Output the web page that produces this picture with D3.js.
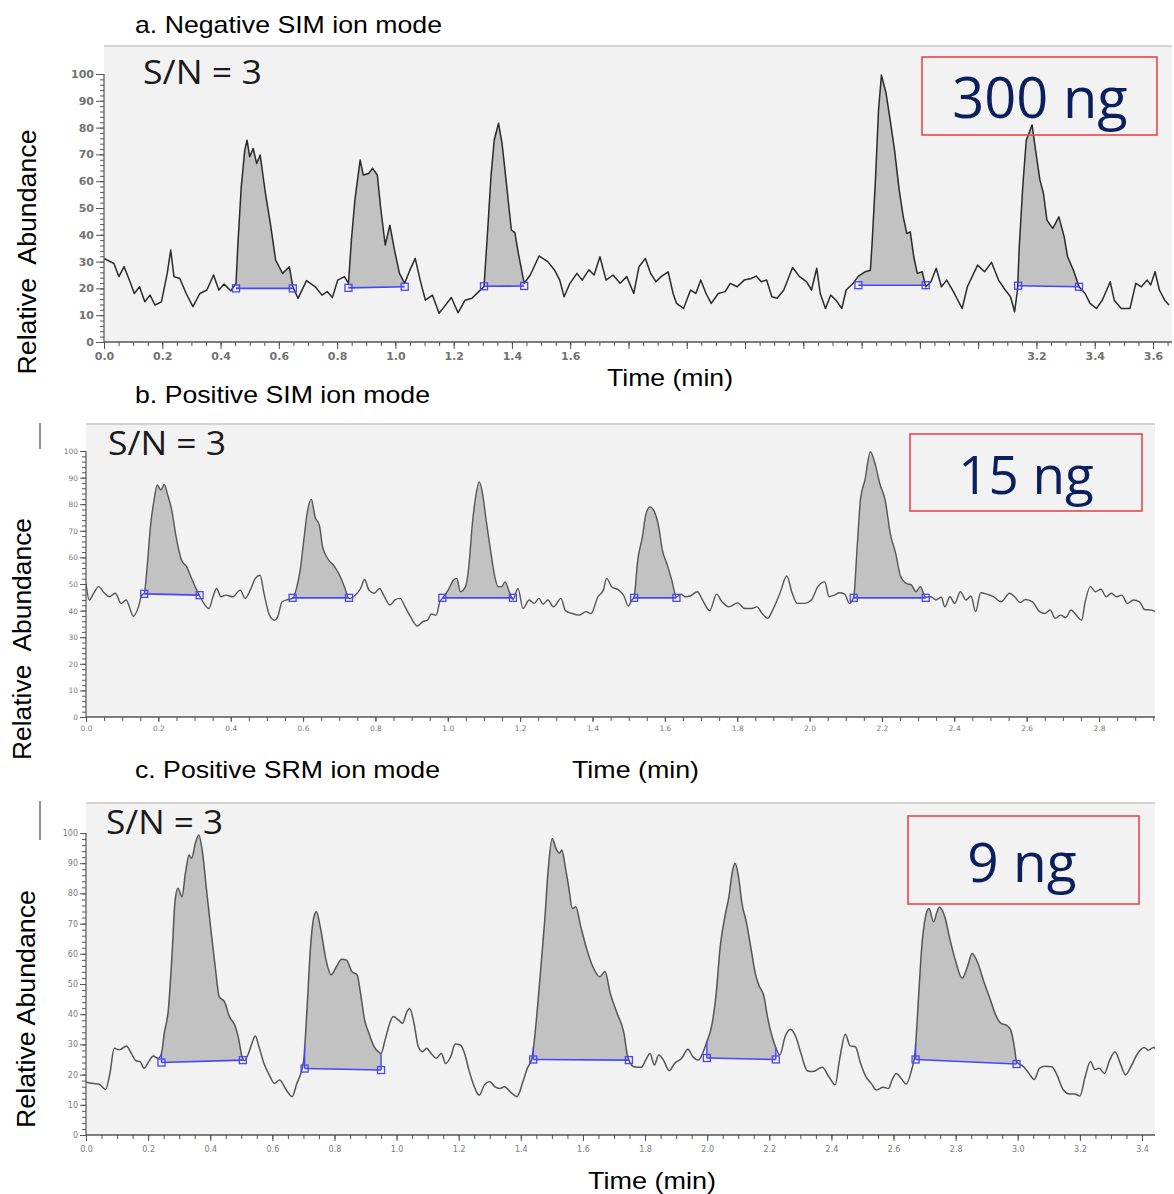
<!DOCTYPE html>
<html>
<head>
<meta charset="utf-8">
<title>SIM / SRM chromatograms</title>
<script src="https://cdn.jsdelivr.net/npm/d3@7/dist/d3.min.js"></script>
<style>
  body { margin: 0; background: #fff; }
  svg { display: block; font-family: "Liberation Sans", Arial, sans-serif; }
</style>
</head>
<body>
<svg id="chart" width="1174" height="1194"></svg>
<script>
// ---- data: [time (min), relative abundance] ----
const traceA = [
  [0.000,31.2],[0.034,29.3],[0.051,24.4],[0.069,28.1],[0.087,23.1],[0.104,18.1],[0.122,20.6],[0.140,15.0],
  [0.158,17.5],[0.175,13.8],[0.197,15.0],[0.217,25.6],[0.229,34.3],[0.240,24.4],[0.260,23.7],[0.282,18.1],
  [0.305,13.2],[0.329,18.1],[0.353,19.4],[0.376,25.0],[0.394,19.4],[0.412,21.6],[0.435,19.1],[0.453,21.9],
  [0.459,35.5],[0.471,57.9],[0.483,71.6],[0.491,75.3],[0.500,69.1],[0.512,72.2],[0.524,66.6],[0.536,69.8],
  [0.554,55.5],[0.571,44.2],[0.589,30.6],[0.613,25.6],[0.636,28.1],[0.648,20.6],[0.666,16.3],[0.695,22.9],
  [0.725,20.6],[0.748,17.5],[0.766,18.8],[0.784,16.6],[0.802,23.1],[0.825,24.4],[0.839,21.9],[0.849,38.0],
  [0.861,53.0],[0.879,67.9],[0.890,62.3],[0.908,62.9],[0.922,64.8],[0.938,62.3],[0.949,50.5],[0.965,36.2],
  [0.981,43.6],[0.997,34.3],[1.014,25.6],[1.032,21.9],[1.050,26.9],[1.068,31.2],[1.085,23.1],[1.103,15.6],
  [1.127,17.5],[1.150,10.7],[1.168,13.2],[1.192,16.6],[1.215,10.9],[1.239,15.6],[1.263,16.3],[1.286,18.8],
  [1.304,20.6],[1.316,40.5],[1.328,61.7],[1.339,75.3],[1.354,81.6],[1.366,74.1],[1.381,59.2],[1.398,41.8],
  [1.410,40.8],[1.422,33.1],[1.442,21.9],[1.463,25.0],[1.493,32.1],[1.523,30.0],[1.546,26.9],[1.564,23.1],
  [1.579,16.9],[1.599,21.9],[1.623,25.6],[1.641,23.1],[1.664,26.9],[1.682,25.0],[1.702,31.8],[1.723,23.1],
  [1.747,25.0],[1.771,21.9],[1.794,24.4],[1.818,18.1],[1.836,28.1],[1.858,31.2],[1.876,25.6],[1.894,22.5],
  [1.912,24.4],[1.936,26.2],[1.953,18.1],[1.965,14.4],[1.989,12.5],[2.013,19.4],[2.031,18.1],[2.048,23.1],
  [2.066,18.1],[2.084,14.4],[2.108,18.1],[2.132,18.8],[2.149,21.9],[2.173,20.6],[2.197,23.1],[2.221,23.7],
  [2.238,24.6],[2.256,22.5],[2.274,23.1],[2.292,16.9],[2.310,16.3],[2.333,19.4],[2.363,27.8],[2.387,24.4],
  [2.411,22.5],[2.428,19.4],[2.446,27.5],[2.458,18.1],[2.476,12.5],[2.494,17.5],[2.512,15.6],[2.532,12.5],
  [2.547,19.4],[2.571,21.9],[2.589,24.6],[2.612,26.2],[2.630,26.8],[2.636,36.8],[2.648,61.7],[2.658,86.5],
  [2.668,99.6],[2.684,92.8],[2.698,82.8],[2.713,71.6],[2.729,56.7],[2.743,46.7],[2.755,40.5],[2.767,41.1],
  [2.779,31.8],[2.791,25.6],[2.808,26.2],[2.820,20.6],[2.838,22.5],[2.856,27.5],[2.874,20.6],[2.892,23.1],
  [2.915,18.8],[2.945,12.5],[2.963,20.6],[2.998,28.7],[3.022,26.2],[3.046,29.7],[3.070,23.1],[3.093,19.4],
  [3.111,16.9],[3.125,11.3],[3.135,19.4],[3.141,35.5],[3.153,57.9],[3.165,75.3],[3.185,81.0],[3.197,71.6],
  [3.212,60.4],[3.224,55.5],[3.236,45.5],[3.256,42.4],[3.277,46.7],[3.295,39.3],[3.307,31.8],[3.327,26.8],
  [3.346,20.6],[3.367,18.1],[3.384,14.4],[3.406,12.5],[3.426,15.6],[3.453,22.5],[3.467,15.6],[3.491,12.5],
  [3.521,12.5],[3.541,21.9],[3.560,20.6],[3.580,23.1],[3.592,21.3],[3.607,26.2],[3.622,19.4],[3.640,15.6],
  [3.655,13.8]
];

const traceB = [
  [0.000,50.2],[0.009,44.0],[0.021,46.5],[0.035,49.0],[0.050,46.7],[0.064,45.2],[0.081,46.5],[0.097,42.7],
  [0.111,44.0],[0.131,37.9],[0.145,41.4],[0.154,45.8],[0.161,46.5],[0.169,56.5],[0.178,71.5],[0.188,81.5],
  [0.197,87.2],[0.207,85.3],[0.216,87.4],[0.226,83.4],[0.237,77.8],[0.249,67.8],[0.264,59.0],[0.278,56.5],
  [0.292,52.1],[0.304,48.3],[0.314,45.5],[0.326,42.7],[0.340,40.8],[0.351,45.2],[0.361,48.3],[0.373,45.2],
  [0.387,45.8],[0.406,45.2],[0.426,47.7],[0.440,44.6],[0.454,47.7],[0.468,52.1],[0.481,53.3],[0.492,46.5],
  [0.507,38.3],[0.521,36.4],[0.530,37.7],[0.542,43.3],[0.559,44.2],[0.571,44.6],[0.583,49.0],[0.592,55.2],
  [0.602,66.5],[0.611,76.5],[0.623,81.8],[0.633,75.3],[0.645,72.1],[0.654,64.0],[0.668,59.6],[0.687,56.5],
  [0.703,52.7],[0.716,48.3],[0.727,44.5],[0.744,45.8],[0.759,48.3],[0.770,51.7],[0.782,47.7],[0.797,46.5],
  [0.811,48.3],[0.825,45.2],[0.840,42.1],[0.854,44.0],[0.868,44.6],[0.882,41.4],[0.897,37.7],[0.916,34.2],
  [0.930,35.8],[0.944,36.4],[0.954,38.7],[0.968,38.3],[0.978,43.3],[0.985,44.6],[1.001,47.7],[1.016,51.5],
  [1.025,52.1],[1.035,47.1],[1.049,49.0],[1.058,56.5],[1.068,72.8],[1.077,82.8],[1.087,88.4],[1.096,84.1],
  [1.106,74.0],[1.118,62.8],[1.130,52.7],[1.139,49.0],[1.149,49.0],[1.158,50.8],[1.170,47.1],[1.180,44.2],
  [1.194,48.3],[1.208,40.8],[1.225,44.0],[1.239,42.7],[1.252,44.6],[1.263,42.4],[1.277,44.0],[1.292,41.4],
  [1.313,44.6],[1.325,40.0],[1.344,38.9],[1.363,38.3],[1.382,39.6],[1.396,38.9],[1.415,45.2],[1.430,47.7],
  [1.439,52.1],[1.453,49.0],[1.473,47.7],[1.487,45.5],[1.499,41.7],[1.509,44.0],[1.515,45.2],[1.525,59.0],
  [1.538,67.8],[1.547,75.9],[1.559,79.0],[1.571,77.2],[1.583,71.5],[1.593,62.8],[1.607,57.1],[1.619,51.5],
  [1.632,45.2],[1.646,46.2],[1.656,45.2],[1.670,45.5],[1.690,47.1],[1.704,44.0],[1.724,40.0],[1.743,46.2],
  [1.758,43.3],[1.777,41.4],[1.801,42.9],[1.821,40.8],[1.840,40.8],[1.855,41.4],[1.869,38.9],[1.884,37.1],
  [1.898,40.2],[1.918,46.5],[1.937,53.0],[1.952,46.5],[1.966,42.7],[1.986,42.7],[2.005,44.0],[2.023,49.0],
  [2.042,50.8],[2.054,45.2],[2.068,45.8],[2.083,46.7],[2.097,46.2],[2.110,42.7],[2.122,45.2],[2.131,62.8],
  [2.141,82.2],[2.153,89.1],[2.168,99.7],[2.182,94.7],[2.194,87.8],[2.209,81.5],[2.223,69.0],[2.238,61.5],
  [2.252,52.7],[2.267,50.2],[2.282,49.6],[2.294,47.1],[2.306,49.0],[2.321,45.0],[2.335,45.2],[2.349,44.0],
  [2.364,45.0],[2.374,41.4],[2.388,45.2],[2.401,42.7],[2.417,47.1],[2.432,44.0],[2.446,45.5],[2.459,39.6],
  [2.473,46.7],[2.490,46.2],[2.509,45.2],[2.529,43.3],[2.553,46.5],[2.568,45.0],[2.582,43.0],[2.597,44.2],
  [2.616,43.3],[2.636,39.6],[2.650,38.9],[2.665,40.2],[2.679,37.1],[2.694,38.3],[2.708,37.4],[2.723,40.2],
  [2.737,38.3],[2.752,36.4],[2.761,42.7],[2.776,49.0],[2.790,47.1],[2.805,48.0],[2.820,45.2],[2.834,46.5],
  [2.849,45.2],[2.863,45.8],[2.878,42.7],[2.895,44.0],[2.912,43.3],[2.926,40.4],[2.946,40.2],[2.960,39.2]
];

const traceC = [
  [0.000,17.6],[0.019,17.1],[0.041,16.9],[0.063,15.1],[0.077,20.4],[0.091,28.7],[0.108,28.2],[0.130,29.5],
  [0.146,27.0],[0.161,24.6],[0.174,24.3],[0.187,22.1],[0.202,24.3],[0.216,26.2],[0.232,25.4],[0.243,27.0],
  [0.252,33.7],[0.265,41.4],[0.276,57.9],[0.287,77.8],[0.296,81.7],[0.309,78.9],[0.320,86.6],[0.332,92.7],
  [0.340,91.6],[0.352,96.6],[0.363,99.3],[0.374,94.4],[0.387,82.2],[0.401,69.0],[0.416,55.7],[0.429,45.8],
  [0.446,44.1],[0.462,39.2],[0.479,36.4],[0.490,32.6],[0.501,26.5],[0.509,24.6],[0.523,27.0],[0.534,30.3],
  [0.545,32.8],[0.557,29.2],[0.573,23.7],[0.590,19.9],[0.607,17.1],[0.623,18.2],[0.645,14.9],[0.664,12.7],
  [0.679,17.1],[0.690,19.9],[0.701,24.8],[0.712,42.5],[0.723,62.4],[0.734,72.3],[0.742,73.9],[0.756,67.9],
  [0.773,57.9],[0.789,53.0],[0.806,55.7],[0.823,58.2],[0.839,57.9],[0.856,54.1],[0.873,53.0],[0.884,46.9],
  [0.897,38.1],[0.911,33.7],[0.928,29.2],[0.941,27.6],[0.950,27.0],[0.963,31.5],[0.978,37.0],[0.989,39.2],
  [1.006,38.1],[1.019,37.0],[1.033,40.8],[1.042,41.9],[1.056,37.0],[1.070,29.2],[1.083,27.6],[1.097,28.7],
  [1.111,27.0],[1.128,25.4],[1.144,27.0],[1.158,23.7],[1.174,25.9],[1.189,30.1],[1.205,29.8],[1.219,27.0],
  [1.233,21.5],[1.250,16.0],[1.266,13.2],[1.283,16.6],[1.300,17.7],[1.316,16.0],[1.333,15.4],[1.347,16.0],
  [1.366,14.3],[1.388,12.7],[1.405,17.1],[1.421,22.1],[1.436,25.4],[1.449,37.0],[1.462,52.4],[1.477,71.2],
  [1.488,87.7],[1.501,98.2],[1.513,94.9],[1.525,93.3],[1.532,94.4],[1.543,88.8],[1.554,82.2],[1.566,75.0],
  [1.577,75.6],[1.593,69.0],[1.613,61.3],[1.632,55.7],[1.654,52.4],[1.671,54.1],[1.688,46.9],[1.710,40.3],
  [1.732,33.7],[1.743,26.5],[1.748,24.8],[1.765,22.6],[1.788,22.4],[1.802,24.8],[1.816,27.0],[1.830,23.2],
  [1.844,26.5],[1.859,24.8],[1.878,21.3],[1.895,23.7],[1.918,25.4],[1.938,28.4],[1.954,25.9],[1.972,24.8],
  [1.985,27.0],[1.999,30.9],[2.014,35.9],[2.028,45.8],[2.042,62.4],[2.059,73.4],[2.070,78.9],[2.081,87.2],
  [2.090,90.0],[2.101,85.5],[2.112,76.7],[2.127,70.1],[2.141,61.8],[2.155,53.5],[2.166,49.7],[2.183,45.8],
  [2.194,39.2],[2.209,32.6],[2.220,29.2],[2.234,26.5],[2.251,32.6],[2.268,35.0],[2.285,32.6],[2.302,27.0],
  [2.322,21.3],[2.341,21.0],[2.370,22.4],[2.392,19.3],[2.412,16.6],[2.426,24.8],[2.445,33.4],[2.460,29.5],
  [2.477,29.2],[2.494,23.7],[2.511,19.3],[2.528,17.1],[2.545,14.9],[2.567,15.8],[2.584,15.4],[2.595,18.2],
  [2.609,20.4],[2.624,18.8],[2.641,16.9],[2.658,21.5],[2.669,27.0],[2.680,44.7],[2.691,62.4],[2.703,72.3],
  [2.714,75.0],[2.729,70.6],[2.740,73.9],[2.748,75.4],[2.765,72.3],[2.782,64.6],[2.799,57.9],[2.821,51.9],
  [2.838,55.7],[2.853,60.1],[2.872,56.8],[2.889,51.3],[2.912,44.7],[2.929,39.7],[2.946,37.0],[2.963,36.4],
  [2.977,34.8],[2.989,29.2],[2.996,24.3],[3.019,22.6],[3.036,20.4],[3.053,18.4],[3.070,22.1],[3.087,22.8],
  [3.110,22.6],[3.126,19.9],[3.147,14.9],[3.166,13.6],[3.183,13.6],[3.200,12.9],[3.217,19.3],[3.234,24.3],
  [3.248,21.7],[3.262,22.1],[3.279,20.4],[3.296,24.8],[3.313,27.6],[3.330,23.7],[3.347,19.9],[3.364,22.6],
  [3.386,27.0],[3.407,29.0],[3.420,28.1],[3.437,29.0],[3.452,28.1]
];

// integrated peaks: [start, end, baseline at start, baseline at end]
const peaksA = [[0.453,0.648,20.0,20.0],[0.839,1.032,20.2,20.6],[1.304,1.442,20.8,20.9],[2.589,2.820,21.2,21.2],[3.137,3.346,21.0,20.6]];
const peaksB = [[0.161,0.314,46.3,45.8],[0.571,0.727,44.8,44.8],[0.985,1.180,44.8,44.8],[1.515,1.632,44.8,44.8],[2.122,2.321,44.8,44.8]];
const peaksC = [[0.243,0.505,24.0,24.8],[0.704,0.950,22.0,21.5],[1.440,1.748,25.0,24.8],[1.999,2.221,25.5,25.0],[2.671,2.996,25.0,23.5]];

const xTicksA = [0,0.2,0.4,0.6,0.8,1.0,1.2,1.4,1.6,1.8,2.0,2.2,2.4,2.6,2.8,3.0,3.2,3.4,3.6];
const xTickLabelsA = ['0.0','0.2','0.4','0.6','0.8','1.0','1.2','1.4','1.6','','','','','','','','3.2','3.4','3.6'];
const xTicksB = [0,0.2,0.4,0.6,0.8,1.0,1.2,1.4,1.6,1.8,2.0,2.2,2.4,2.6,2.8];
const xTickLabelsB = ['0.0','0.2','0.4','0.6','0.8','1.0','1.2','1.4','1.6','1.8','2.0','2.2','2.4','2.6','2.8'];
const xTicksC = [0,0.2,0.4,0.6,0.8,1.0,1.2,1.4,1.6,1.8,2.0,2.2,2.4,2.6,2.8,3.0,3.2,3.4];
const xTickLabelsC = ['0.0','0.2','0.4','0.6','0.8','1.0','1.2','1.4','1.6','1.8','2.0','2.2','2.4','2.6','2.8','3.0','3.2','3.4'];
const yTicks = [0,10,20,30,40,50,60,70,80,90,100];
const yTickLabels = ['0','10','20','30','40','50','60','70','80','90','100'];

const titles = ['a. Negative SIM ion mode', 'b. Positive SIM ion mode', 'c. Positive SRM ion mode'];
const amounts = ['300 ng', '15 ng', '9 ng'];
const yAxisTitles = ['Relative  Abundance', 'Relative  Abundance', 'Relative Abundance'];

// ---- layout ----
const panels = [
  {
    id: 'a', trace: traceA, peaks: peaksA, xTicks: xTicksA, xLabels: xTickLabelsA,
    xDomain: [0, 3.6], xRange: [104, 1153], yRange: [342, 74], top: 46, right: 1172,
    smooth: false, edgeLines: false, traceColor: '#2b2b2b', traceWidth: 1.5,
    tickFont: 11, tickWeight: 'bold', tickColor: '#727272', yTickSize: 8, xTickSize: 7, xPad: 3,
    title: [135, 33, 307], time: [607, 386, 126], ylab: [36, 252, 245],
    sn: [143, 84, 119], box: [922, 57, 235, 78], amount: [1040, 118, 56], mark: null
  },
  {
    id: 'b', trace: traceB, peaks: peaksB, xTicks: xTicksB, xLabels: xTickLabelsB,
    xDomain: [0, 2.8], xRange: [86, 1099], yRange: [717, 451], top: 424, right: 1155,
    smooth: true, edgeLines: false, traceColor: '#555', traceWidth: 1.4,
    tickFont: 7.5, tickWeight: 'normal', tickColor: '#7a7a7a', yTickSize: 6, xTickSize: 5, xPad: 4,
    title: [135, 403, 295], time: [572, 778, 127], ylab: [31, 639, 242],
    sn: [108, 455, 118], box: [910, 434, 232, 77], amount: [1026, 494, 53], mark: [423, 449]
  },
  {
    id: 'c', trace: traceC, peaks: peaksC, xTicks: xTicksC, xLabels: xTickLabelsC,
    xDomain: [0, 3.4], xRange: [86, 1142], yRange: [1135, 833], top: 803, right: 1155,
    smooth: true, edgeLines: true, traceColor: '#555', traceWidth: 1.5,
    tickFont: 8, tickWeight: 'normal', tickColor: '#7a7a7a', yTickSize: 6, xTickSize: 6, xPad: 5,
    title: [135, 778, 305], time: [588, 1189, 128], ylab: [35, 1009, 238],
    sn: [106, 834, 117], box: [908, 816, 231, 88], amount: [1022, 882, 55], mark: [801, 840]
  }
];

const svg = d3.select('#chart');
const defs = svg.append('defs');
const blue = '#4646ff';

function valueAt(trace, t) {
  const i = d3.bisector(d => d[0]).left(trace, t);
  if (i <= 0) return trace[0][1];
  if (i >= trace.length) return trace[trace.length - 1][1];
  const a = trace[i - 1], b = trace[i];
  return a[1] + (b[1] - a[1]) * (t - a[0]) / (b[0] - a[0]);
}

function drawPanel(p, k) {
  const x = d3.scaleLinear().domain(p.xDomain).range(p.xRange);
  const y = d3.scaleLinear().domain([0, 100]).range(p.yRange);
  const left = x(0), bottom = y(0);
  const g = svg.append('g').attr('class', 'panel panel-' + p.id);

  // plot background
  g.append('rect')
    .attr('x', left).attr('y', p.top)
    .attr('width', p.right - left).attr('height', bottom - p.top)
    .attr('fill', '#f2f2f2');
  g.append('line')
    .attr('x1', left).attr('x2', p.right).attr('y1', p.top).attr('y2', p.top)
    .attr('stroke', '#d2d2d2').attr('stroke-width', 2);

  defs.append('clipPath').attr('id', 'clip-' + p.id)
    .append('rect')
    .attr('x', left).attr('y', p.top)
    .attr('width', p.right - left).attr('height', bottom - p.top);
  const plot = g.append('g').attr('clip-path', 'url(#clip-' + p.id + ')');
  const curve = p.smooth ? d3.curveMonotoneX : d3.curveLinear;

  // peak fills
  p.peaks.forEach(([s, e, b0, b1]) => {
    const base = t => b0 + (b1 - b0) * (t - s) / (e - s);
    const pts = [[s, valueAt(p.trace, s)]]
      .concat(p.trace.filter(d => d[0] > s && d[0] < e))
      .concat([[e, valueAt(p.trace, e)]]);
    plot.append('path')
      .datum(pts)
      .attr('fill', '#c2c2c2')
      .attr('d', d3.area()
        .x(d => x(d[0]))
        .y0(d => y(base(d[0])))
        .y1(d => y(d[1]))
        .curve(curve));
  });

  // trace
  plot.append('path')
    .datum(p.trace)
    .attr('fill', 'none')
    .attr('stroke', p.traceColor)
    .attr('stroke-width', p.traceWidth)
    .attr('stroke-linejoin', 'round')
    .attr('d', d3.line().x(d => x(d[0])).y(d => y(d[1])).curve(curve));

  // integration baselines + end markers
  p.peaks.forEach(([s, e, b0, b1]) => {
    plot.append('line')
      .attr('x1', x(s)).attr('y1', y(b0)).attr('x2', x(e)).attr('y2', y(b1))
      .attr('stroke', blue).attr('stroke-width', 1.6);
    if (p.edgeLines) {
      [[s, b0], [e, b1]].forEach(([t, b]) => {
        plot.append('line')
          .attr('x1', x(t)).attr('x2', x(t))
          .attr('y1', y(b)).attr('y2', y(valueAt(p.trace, t)))
          .attr('stroke', blue).attr('stroke-width', 1.4);
      });
    }
    [[s, b0], [e, b1]].forEach(([t, b]) => {
      plot.append('rect')
        .attr('x', x(t) - 3.5).attr('y', y(b) - 3.5)
        .attr('width', 7).attr('height', 7)
        .attr('fill', 'none').attr('stroke', blue).attr('stroke-width', 1.3);
    });
  });

  // axes
  const styleAxis = sel => {
    sel.selectAll('.domain').remove();
    sel.selectAll('.tick line').attr('stroke', '#555');
    sel.selectAll('.tick text')
      .attr('fill', p.tickColor)
      .style('font-family', 'Verdana, "DejaVu Sans", sans-serif')
      .style('font-size', p.tickFont + 'px')
      .style('font-weight', p.tickWeight);
  };
  const xMax = x.invert(p.right);
  g.append('g').attr('transform', 'translate(0,' + bottom + ')')
    .call(d3.axisBottom(x).tickValues(d3.range(0, xMax, 0.05)).tickSize(4).tickFormat(''))
    .call(styleAxis);
  g.append('g').attr('transform', 'translate(0,' + bottom + ')')
    .call(d3.axisBottom(x).tickValues(p.xTicks).tickSize(p.xTickSize).tickPadding(p.xPad)
      .tickFormat((d, i) => p.xLabels[i]))
    .call(styleAxis);
  g.append('g').attr('transform', 'translate(' + left + ',0)')
    .call(d3.axisLeft(y).tickValues(d3.range(0, 101, 2)).tickSize(4).tickFormat(''))
    .call(styleAxis);
  g.append('g').attr('transform', 'translate(' + left + ',0)')
    .call(d3.axisLeft(y).tickValues(yTicks).tickSize(p.yTickSize).tickPadding(2)
      .tickFormat((d, i) => yTickLabels[i]))
    .call(styleAxis);
  g.append('line')
    .attr('x1', left).attr('x2', p.right).attr('y1', bottom).attr('y2', bottom)
    .attr('stroke', '#555').attr('stroke-width', 1.5);
  g.append('line')
    .attr('x1', left).attr('x2', left).attr('y1', bottom).attr('y2', y(100))
    .attr('stroke', '#555').attr('stroke-width', 1.2);

  // texts
  g.append('text')
    .attr('x', p.title[0]).attr('y', p.title[1])
    .attr('textLength', p.title[2]).attr('lengthAdjust', 'spacingAndGlyphs')
    .style('font-size', '24px').attr('fill', '#000')
    .text(titles[k]);
  g.append('text')
    .attr('x', p.time[0]).attr('y', p.time[1])
    .attr('textLength', p.time[2]).attr('lengthAdjust', 'spacingAndGlyphs')
    .style('font-size', '24px').attr('fill', '#000')
    .text('Time (min)');
  g.append('text')
    .attr('transform', 'translate(' + p.ylab[0] + ',' + p.ylab[1] + ') rotate(-90)')
    .attr('text-anchor', 'middle')
    .attr('textLength', p.ylab[2]).attr('lengthAdjust', 'spacingAndGlyphs')
    .style('font-size', '25px').style('white-space', 'pre').attr('fill', '#000')
    .text(yAxisTitles[k]);
  g.append('text')
    .attr('x', p.sn[0]).attr('y', p.sn[1])
    .attr('textLength', p.sn[2]).attr('lengthAdjust', 'spacingAndGlyphs')
    .style('font-family', '"Open Sans", "Noto Sans", sans-serif')
    .style('font-size', '32px').attr('fill', '#1a1a1a')
    .text('S/N = 3');

  // amount box
  g.append('rect')
    .attr('x', p.box[0]).attr('y', p.box[1])
    .attr('width', p.box[2]).attr('height', p.box[3])
    .attr('fill', 'none').attr('stroke', '#e8474b').attr('stroke-width', 1.6);
  g.append('text')
    .attr('x', p.amount[0]).attr('y', p.amount[1])
    .attr('text-anchor', 'middle')
    .style('font-family', '"Open Sans", "Noto Sans", sans-serif')
    .style('font-size', p.amount[2] + 'px').attr('fill', '#0b1f5e')
    .text(amounts[k]);

  if (p.mark) {
    g.append('line')
      .attr('x1', 40).attr('x2', 40).attr('y1', p.mark[0]).attr('y2', p.mark[1])
      .attr('stroke', '#222').attr('stroke-width', 1);
  }
}

panels.forEach(drawPanel);
</script>
</body>
</html>
